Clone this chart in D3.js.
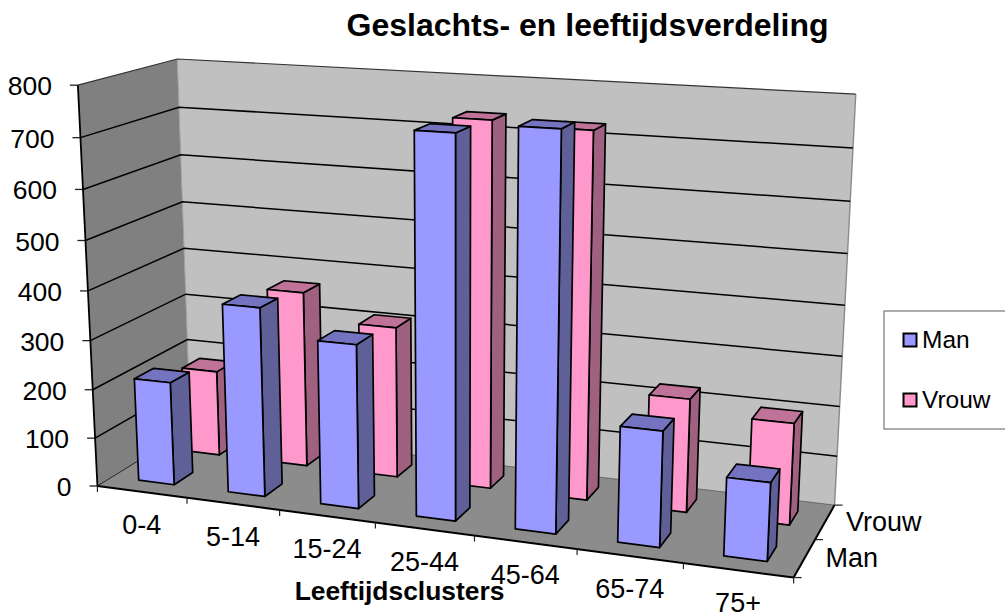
<!DOCTYPE html>
<html><head><meta charset="utf-8">
<script src="https://cdn.jsdelivr.net/npm/d3@7"></script>
<style>html,body{margin:0;background:#fff}svg{display:block}text{font-family:"Liberation Sans",Arial,sans-serif;fill:#000}</style>
</head><body><svg id="c" width="1005" height="616"></svg>
<script>
const categories=["0-4","5-14","15-24","25-44","45-64","65-74","75+"];
const seriesNames=["Man","Vrouw"];
const man=[212,382,328,743,762,224,150];
const vrouw=[180,365,311,736,728,227,201];
const valueTicks=[0,100,200,300,400,500,600,700,800];
const title="Geslachts- en leeftijdsverdeling";
const xTitle="Leeftijdsclusters";

// camera calibration: model point [x,y,z] -> picture point
const calib=[
[0,0,0,98.3,485],[1,0,0,794.3,578.3],[0,1,0,190,430],[1,1,0,835,503],[0,0,1,77,85.3],[0,1,1,178,58.5],[1,1,1,856.5,94],
[1/7,0,0,186.7,499],[2/7,0,0,279,511],[3/7,0,0,375,522],[4/7,0,0,475,535.7],[5/7,0,0,576.7,549],[6/7,0,0,683,563],
[0,0,.875,80.7,138],[0,0,.75,83.3,190],[0,0,.625,85.5,240.7],[0,0,.5,88,290],[0,0,.25,93,388],
[0,1,.875,178.3,107],[0,1,.75,180.5,155],[0,1,.625,183,201.7],
[1,1,.875,852.7,148],[1,1,.75,850,201.7],[1,1,.625,847,254],[1,1,.5,844.7,305.7],[1,1,.25,839.7,406.7]];
function solveCamera(pts){
  const rows=[],rhs=[];
  pts.forEach(([x,y,z,u,v])=>{
    rows.push([x,y,z,1,0,0,0,0,-u*x,-u*y,-u*z]);rhs.push(u);
    rows.push([0,0,0,0,x,y,z,1,-v*x,-v*y,-v*z]);rhs.push(v);
  });
  const n=11,A=d3.range(n).map(i=>d3.range(n+1).map(j=>{
    let s=0;rows.forEach((r,k)=>{s+=r[i]*(j<n?r[j]:rhs[k]);});return s;}));
  for(let i=0;i<n;i++){
    let p=i;for(let k=i+1;k<n;k++)if(Math.abs(A[k][i])>Math.abs(A[p][i]))p=k;
    [A[i],A[p]]=[A[p],A[i]];
    for(let k=0;k<n;k++){if(k===i)continue;const f=A[k][i]/A[i][i];for(let j=i;j<=n;j++)A[k][j]-=f*A[i][j];}
  }
  return A.map((r,i)=>r[n]/r[i]);
}
const m=solveCamera(calib);
const P=(x,y,z)=>{const w=m[8]*x+m[9]*y+m[10]*z+1;
  return [(m[0]*x+m[1]*y+m[2]*z+m[3])/w,(m[4]*x+m[5]*y+m[6]*z+m[7])/w];};

const xBand=d3.scaleBand().domain(categories).range([0,1]).paddingInner(.6).paddingOuter(.3);
const xStep=d3.scaleBand().domain(categories).range([0,1]);
const yBand=d3.scaleBand().domain(seriesNames).range([0,1]).paddingInner(.6).paddingOuter(.3);
const yStep=d3.scaleBand().domain(seriesNames).range([0,1]);
const zS=d3.scaleLinear().domain([0,800]).range([0,1]);

const svg=d3.select("#c");
const line=d3.line();
const poly=(g,pts,fill,stroke,sw)=>g.append("path").attr("d",line(pts)+"Z").attr("fill",fill)
  .attr("stroke",stroke||"none").attr("stroke-width",sw||0).attr("stroke-linejoin","round");
const seg=(a,b,stroke,sw)=>svg.append("line").attr("x1",a[0]).attr("y1",a[1]).attr("x2",b[0]).attr("y2",b[1]).attr("stroke",stroke).attr("stroke-width",sw);

// walls and floor
poly(svg,[P(0,1,0),P(1,1,0),P(1,1,1),P(0,1,1)],"#C0C0C0");
poly(svg,[P(0,0,0),P(0,1,0),P(0,1,1),P(0,0,1)],"#808080");
poly(svg,[P(0,0,0),P(1,0,0),P(1,1,0),P(0,1,0)],"#8C8C8C");
seg(P(1,1,0),P(1,1,1),"#8a8a8a",1.4);
seg(P(0,1,0),P(0,1,1),"#a0a0a0",1);
seg(P(0,1,0),P(1,1,0),"#555",.8);
valueTicks.forEach(t=>{
  const z=zS(t);
  if(t>0)svg.append("path").attr("d",line([P(0,0,z),P(0,1,z),P(1,1,z)])).attr("fill","none").attr("stroke",t===800?"#333":"#000").attr("stroke-width",t===800?1.2:1.5);
  else seg(P(0,0,0),P(0,1,0),"#222",1);
  const a=P(0,0,z);
  seg([a[0]-8,a[1]],a,"#222",1.3);
  svg.append("text").attr("x",a[0]-26).attr("y",a[1]+10).attr("text-anchor","end").attr("font-size",26.5).text(t);
});
seg(P(0,0,0),P(0,0,1),"#000",1.8);
seg(P(0,0,0),P(1,0,0),"#000",2);
seg(P(1,0,0),P(1,1,0),"#000",2);
// category ticks and labels
d3.range(8).forEach(i=>{const a=P(i/7,0,0);seg(a,[a[0],a[1]+6],"#222",1.2);});
categories.forEach(c=>{
  const a=P(xStep(c)+xStep.bandwidth()/2,0,0);
  svg.append("text").attr("x",a[0]).attr("y",a[1]+42).attr("text-anchor","middle").attr("font-size",27).text(c);
});
// depth ticks and labels
[0,.5,1].forEach(y=>{const a=P(1,y,0);seg(a,[a[0]+8,a[1]],"#222",1.2);});
seriesNames.forEach(s=>{
  const a=P(1,yStep(s)+yStep.bandwidth()/2,0);
  svg.append("text").attr("x",a[0]+21).attr("y",a[1]+9).attr("font-size",27).text(s);
});

// bars, back row first
const palette={Man:{front:"#9999FF",side:"#606099",top:"#7373BF"},Vrouw:{front:"#FF99CC",side:"#A0607F",top:"#BF7399"}};
const seriesValues={Man:man,Vrouw:vrouw};
["Vrouw","Man"].forEach(s=>{
  const col=palette[s],y0=yBand(s),y1=y0+yBand.bandwidth();
  categories.forEach((c,i)=>{
    const x0=xBand(c),x1=x0+xBand.bandwidth(),z=zS(seriesValues[s][i]);
    const g=svg.append("g").attr("class","bar");
    poly(g,[P(x1,y0,0),P(x1,y1,0),P(x1,y1,z),P(x1,y0,z)],col.side,"#000",1.7);
    poly(g,[P(x0,y0,z),P(x1,y0,z),P(x1,y1,z),P(x0,y1,z)],col.top,"#000",1.7);
    poly(g,[P(x0,y0,0),P(x1,y0,0),P(x1,y0,z),P(x0,y0,z)],col.front,"#000",1.7);
  });
});

// titles
svg.append("text").attr("x",587.5).attr("y",36).attr("text-anchor","middle").attr("font-size",32).attr("font-weight","bold").text(title);
svg.append("text").attr("x",399.5).attr("y",600).attr("text-anchor","middle").attr("font-size",26.4).attr("font-weight","bold").text(xTitle);

// legend
svg.append("rect").attr("x",884).attr("y",311).attr("width",140).attr("height",118).attr("fill","#fff").attr("stroke","#777").attr("stroke-width",1.2);
seriesNames.forEach((s,i)=>{
  const yy=340+i*60;
  svg.append("rect").attr("x",903.5).attr("y",yy-6.5).attr("width",13).attr("height",13).attr("fill",palette[s].front).attr("stroke","#000").attr("stroke-width",2);
  svg.append("text").attr("x",922).attr("y",yy+8).attr("font-size",24.5).text(s);
});
</script></body></html>
